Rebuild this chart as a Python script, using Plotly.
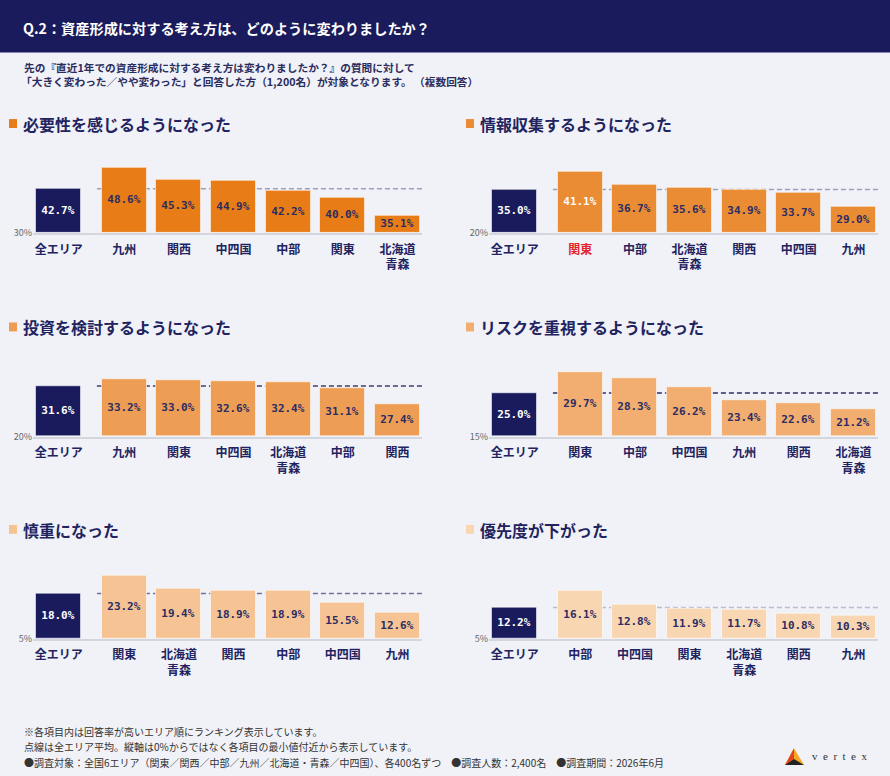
import plotly.graph_objects as go

W, H = 890, 776

# ---- data ----
all_label = "全エリア"
panel_titles = [
    "必要性を感じるようになった",
    "情報収集するようになった",
    "投資を検討するようになった",
    "リスクを重視するようになった",
    "慎重になった",
    "優先度が下がった",
]
panel_all = [42.7, 35.0, 31.6, 25.0, 18.0, 12.2]
panel_areas = [
    ["九州", "関西", "中四国", "中部", "関東", "北海道青森"],
    ["関東", "中部", "北海道青森", "関西", "中四国", "九州"],
    ["九州", "関東", "中四国", "北海道青森", "中部", "関西"],
    ["関東", "中部", "中四国", "九州", "関西", "北海道青森"],
    ["関東", "北海道青森", "関西", "中部", "中四国", "九州"],
    ["中部", "中四国", "関東", "北海道青森", "関西", "九州"],
]
panel_values = [
    [48.6, 45.3, 44.9, 42.2, 40.0, 35.1],
    [41.1, 36.7, 35.6, 34.9, 33.7, 29.0],
    [33.2, 33.0, 32.6, 32.4, 31.1, 27.4],
    [29.7, 28.3, 26.2, 23.4, 22.6, 21.2],
    [23.2, 19.4, 18.9, 18.9, 15.5, 12.6],
    [16.1, 12.8, 11.9, 11.7, 10.8, 10.3],
]
axis_min = [30, 20, 20, 15, 5, 5]
axis_max = [55, 50, 40, 35, 30, 25]
highlight_area = {1: "関東"}   # panel index -> highlighted area

# ---- style ----
NAVY = "#1a1b5c"
TEXT_NAVY = "#22235f"
BG = "#f0f2f7"
RED = "#e3242b"
bar_colors = ["#e87c16", "#ea8c34", "#ee9e54", "#f1ae70", "#f6c494", "#f9d6b2"]
avg_line_colors = ["#9c9ec0", "#9c9ec0", "#3d3f6e", "#2c2e6a", "#70729a", "#b9bcd0"]
FONT = "Noto Sans CJK JP"

xs = [0, 1.2, 2.2, 3.2, 4.2, 5.2, 6.2]
x_range = [-0.47, 6.65]
col_left = [33, 489]
col_right = [422, 878]
row_base = [235, 440, 644]
row_title = [125, 330, 534]
plot_h = 88


def px_x(x):
    return x / W


def px_y(y):
    return 1 - y / H


fig = go.Figure()
shapes = []
annotations = []
layout_axes = {}

for i in range(6):
    row, col = i // 2, i % 2
    sfx = "" if i == 0 else str(i + 1)
    ymin = axis_min[i]
    names = [all_label] + panel_areas[i]
    vals = [panel_all[i]] + panel_values[i]
    hl = highlight_area.get(i)

    colors = [NAVY] + [bar_colors[i]] * 6
    txt_colors = ["white"] + ["white" if a == hl else "#2b2c63" for a in panel_areas[i]]

    ticktext = []
    for n in names:
        lab = n.replace("北海道青森", "北海道<br>青森")
        if n == hl:
            lab = f"<span style='color:{RED}'>{lab}</span>"
        ticktext.append(lab)

    fig.add_trace(go.Bar(
        x=xs,
        y=[v - ymin for v in vals],
        base=ymin,
        width=0.82,
        marker=dict(color=colors, line=dict(color="rgba(255,255,255,0.55)", width=1)),
        text=[f"{v:.1f}%" for v in vals],
        textposition="inside",
        insidetextanchor="middle",
        textangle=0,
        constraintext="none",
        textfont=dict(family="DejaVu Sans Mono", size=11, color=txt_colors, weight="bold"),
        hovertext=[f"{n}: {v:.1f}%" for n, v in zip(names, vals)],
        hoverinfo="text",
        xaxis="x" + sfx,
        yaxis="y" + sfx,
        showlegend=False,
    ))

    base_px = row_base[row]
    layout_axes["xaxis" + sfx] = dict(
        domain=[px_x(col_left[col]), px_x(col_right[col])],
        anchor="y" + sfx,
        range=x_range,
        tickvals=xs,
        ticktext=ticktext,
        tickfont=dict(family=FONT, size=12, color=TEXT_NAVY, weight="bold"),
        ticklabelstandoff=4,
        showgrid=False,
        zeroline=False,
        showline=True,
        linecolor="#d3d6de",
        linewidth=2,
        ticks="",
        fixedrange=True,
    )
    layout_axes["yaxis" + sfx] = dict(
        domain=[px_y(base_px), px_y(base_px - plot_h)],
        anchor="x" + sfx,
        range=[ymin, axis_max[i]],
        tickvals=[ymin],
        ticktext=[f"{ymin}%"],
        tickfont=dict(family=FONT, size=9, color="#666666"),
        showgrid=False,
        zeroline=False,
        showline=False,
        ticks="",
        fixedrange=True,
    )

    # dashed line at the all-area average
    shapes.append(dict(
        type="line", xref="x" + sfx, yref="y" + sfx,
        x0=0.7, x1=x_range[1], y0=panel_all[i], y1=panel_all[i],
        line=dict(color=avg_line_colors[i], width=1.5, dash="5px,3px"),
        layer="below",
    ))

    # panel title with colored square
    sq_x = 9 + col * 457
    title_y = row_title[row]
    shapes.append(dict(
        type="rect", xref="paper", yref="paper",
        x0=px_x(sq_x), x1=px_x(sq_x + 8),
        y0=px_y(title_y + 4), y1=px_y(title_y - 5),
        fillcolor=bar_colors[i], line=dict(width=0),
    ))
    annotations.append(dict(
        text=panel_titles[i], xref="paper", yref="paper",
        x=px_x(sq_x + 12), y=px_y(title_y), xanchor="left", yanchor="middle",
        showarrow=False, font=dict(family=FONT, size=16, color=TEXT_NAVY, weight="bold"),
    ))

# header band
shapes.append(dict(
    type="rect", xref="paper", yref="paper", x0=0, x1=1, y0=px_y(53), y1=1,
    fillcolor=NAVY, line=dict(width=0), layer="below",
))
annotations.append(dict(
    text="Q.2：資産形成に対する考え方は、どのように変わりましたか？",
    xref="paper", yref="paper", x=px_x(21), y=px_y(28), xanchor="left", yanchor="middle",
    showarrow=False, font=dict(family=FONT, size=14.2, color="white", weight="bold"),
))
subtitle_lines = [
    "先の『直近1年での資産形成に対する考え方は変わりましたか？』の質問に対して",
    "「大きく変わった／やや変わった」と回答した方（1,200名）が対象となります。 （複数回答）",
]
for k, line in enumerate(subtitle_lines):
    annotations.append(dict(
        text=line, xref="paper", yref="paper", x=px_x(22 - 3 * k), y=px_y(68 + 14 * k),
        xanchor="left", yanchor="middle", showarrow=False,
        font=dict(family=FONT, size=10.7, color="#2b2c5e", weight="bold"),
    ))

footer_lines = [
    "※各項目内は回答率が高いエリア順にランキング表示しています。",
    "点線は全エリア平均。縦軸は0%からではなく各項目の最小値付近から表示しています。",
    "●調査対象：全国6エリア（関東／関西／中部／九州／北海道・青森／中四国）、各400名ずつ　●調査人数：2,400名　●調査期間：2026年6月",
]
for k, line in enumerate(footer_lines):
    annotations.append(dict(
        text=line, xref="paper", yref="paper", x=px_x(22), y=px_y(737 + 15.5 * k),
        xanchor="left", yanchor="middle", showarrow=False,
        font=dict(family=FONT, size=10, color="#333333"),
    ))

# vertex logo
def tri(pts):
    p = " L ".join(f"{px_x(a):.4f},{px_y(b):.4f}" for a, b in pts)
    return "M " + p + " Z"

shapes += [
    dict(type="path", xref="paper", yref="paper", path=tri([(785, 771), (794, 754), (804, 771)]),
         fillcolor="#f5a623", line=dict(width=0)),
    dict(type="path", xref="paper", yref="paper", path=tri([(785, 771), (794, 754), (794, 765)]),
         fillcolor="#e2441c", line=dict(width=0)),
    dict(type="path", xref="paper", yref="paper", path=tri([(785, 771), (794, 765), (804, 771)]),
         fillcolor="#222222", line=dict(width=0)),
]
annotations.append(dict(
    text="v\u00a0 e\u00a0 r\u00a0 t\u00a0 e\u00a0 x", xref="paper", yref="paper", x=px_x(810), y=px_y(762),
    xanchor="left", yanchor="middle", showarrow=False,
    font=dict(family="Liberation Serif", size=11, color="#333333"),
))

fig.update_layout(
    width=W,
    height=H,
    autosize=False,
    margin=dict(l=0, r=0, t=0, b=0),
    paper_bgcolor=BG,
    plot_bgcolor="rgba(0,0,0,0)",
    bargap=0,
    shapes=shapes,
    annotations=annotations,
    font=dict(family=FONT),
    **layout_axes,
)

fig.write_html("out.html", config={"displayModeBar": False},
               post_script="document.body.style.margin='0px';")
